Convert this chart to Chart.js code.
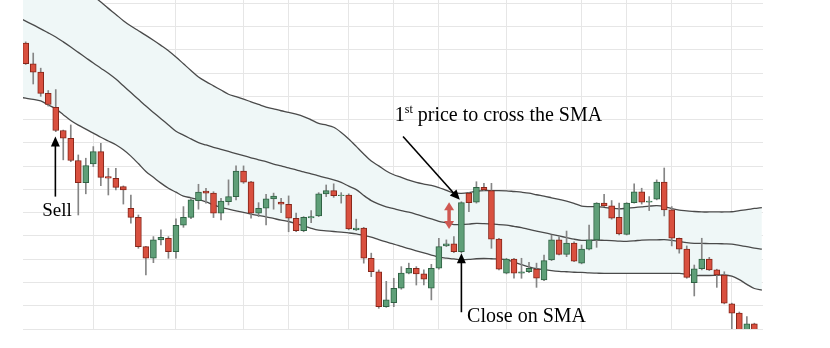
<!DOCTYPE html>
<html>
<head>
<meta charset="utf-8">
<script src="https://cdn.jsdelivr.net/npm/chart.js@4"></script>
<style>
  body { margin: 0; background: #fff; }
  canvas { display: block; }
</style>
</head>
<body>
<canvas id="chart" width="830" height="348"></canvas>
<script>
// Daily candles (session index 0..97)
const opens = [
  12.29, 11.40, 11.04, 10.13, 9.53, 8.53, 8.20, 7.24, 6.29, 7.10,
  7.62, 6.55, 6.48, 6.12, 5.19, 4.80, 3.54, 3.04, 3.83, 3.90,
  3.32, 4.46, 4.80, 5.52, 5.93, 5.84, 4.98, 5.47, 5.69, 6.79,
  6.33, 4.98, 5.19, 5.59, 5.45, 5.36, 4.76, 4.23, 4.77, 4.86,
  5.81, 5.95, 5.73, 5.76, 4.26, 4.34, 3.04, 2.46, 0.96, 1.13,
  1.75, 2.40, 2.61, 2.37, 1.75, 2.61, 3.57, 3.66, 3.32, 5.84,
  5.45, 6.09, 5.95, 3.86, 2.40, 3.00, 2.40, 2.46, 2.58, 2.11,
  2.97, 3.83, 3.21, 3.69, 2.83, 3.43, 3.83, 5.41, 5.29, 4.80,
  4.07, 5.43, 5.90, 5.45, 5.58, 6.31, 5.12, 3.90, 3.43, 1.99,
  2.59, 3.00, 2.54, 2.32, 1.08, 0.68, -0.22, 0.22
];
const highs = [
  12.34, 11.86, 11.21, 10.25, 10.29, 8.55, 8.77, 7.48, 7.34, 7.84,
  7.98, 6.91, 6.91, 6.15, 5.76, 4.90, 3.55, 3.97, 4.26, 3.97,
  4.73, 5.26, 5.63, 6.22, 6.05, 5.90, 5.62, 6.41, 7.01, 7.01,
  6.35, 5.43, 5.79, 5.84, 5.62, 5.72, 4.98, 4.83, 5.09, 5.86,
  6.19, 6.24, 5.86, 5.81, 4.72, 4.37, 3.26, 2.54, 2.05, 2.18,
  2.68, 2.83, 2.68, 2.54, 2.78, 3.90, 3.83, 3.97, 5.47, 5.86,
  6.33, 6.26, 6.26, 3.90, 3.04, 3.04, 3.04, 2.87, 2.83, 3.18,
  4.04, 3.97, 4.21, 3.75, 3.61, 4.47, 5.43, 5.79, 5.52, 5.41,
  5.43, 6.24, 6.05, 5.69, 6.41, 6.92, 5.26, 3.91, 3.57, 2.75,
  3.90, 3.08, 2.57, 2.46, 1.11, 0.73, 0.53, 0.25
];
const lows = [
  11.37, 10.53, 10.00, 9.58, 8.48, 7.27, 7.19, 4.90, 5.81, 6.98,
  6.16, 5.76, 5.98, 5.37, 4.55, 3.47, 2.32, 2.85, 3.61, 3.04,
  3.04, 4.37, 4.74, 5.15, 5.41, 4.79, 4.69, 5.33, 5.55, 6.26,
  4.76, 4.83, 4.47, 5.15, 5.00, 4.18, 4.18, 4.18, 4.57, 4.83,
  5.69, 5.66, 5.41, 4.26, 4.23, 2.83, 2.25, 0.89, 0.93, 0.96,
  1.71, 2.37, 1.89, 1.89, 1.25, 2.57, 3.54, 3.28, 3.28, 5.04,
  5.41, 5.95, 3.47, 2.54, 2.37, 2.18, 2.18, 2.42, 1.79, 2.08,
  2.94, 3.18, 3.11, 2.89, 2.80, 3.40, 3.51, 5.26, 4.72, 4.04,
  4.04, 5.41, 5.37, 5.09, 5.55, 4.86, 3.57, 3.26, 2.18, 1.42,
  2.54, 2.51, 1.79, 1.08, -0.04, -0.26, -0.30, -0.30
];
const closes = [
  11.40, 11.04, 10.13, 9.65, 8.53, 8.20, 7.24, 6.29, 7.02, 7.62,
  6.52, 6.48, 6.09, 5.98, 4.80, 3.54, 3.04, 3.83, 3.94, 3.32,
  4.46, 4.80, 5.55, 5.88, 5.84, 4.98, 5.50, 5.69, 6.79, 6.31,
  4.98, 5.19, 5.59, 5.71, 5.36, 4.76, 4.23, 4.80, 4.83, 5.81,
  5.95, 5.73, 5.76, 4.30, 4.34, 3.04, 2.46, 0.96, 1.25, 1.75,
  2.40, 2.61, 2.37, 2.14, 2.61, 3.54, 3.66, 3.32, 5.43, 5.43,
  6.09, 5.98, 3.86, 2.57, 3.00, 2.40, 2.46, 2.61, 2.18, 2.94,
  3.83, 3.21, 3.69, 2.92, 3.44, 3.83, 5.41, 5.29, 4.76, 4.09,
  5.41, 5.90, 5.45, 5.50, 6.31, 5.12, 3.90, 3.43, 2.22, 2.59,
  3.00, 2.54, 2.32, 1.11, 0.68, -0.17, 0.22, -0.22
];

// Bands run one session either side of the candles (index -1..98)
const bandStart = -1;
const upperBand = [
  17.06, 16.79, 16.51, 16.24, 15.96, 15.69, 15.41, 15.14, 14.86, 14.59,
  14.32, 14.05, 13.78, 13.52, 13.25, 13.02, 12.82, 12.62, 12.41, 12.19,
  11.96, 11.69, 11.40, 11.11, 10.83, 10.63, 10.45, 10.27, 10.09, 9.99,
  9.88, 9.76, 9.65, 9.54, 9.46, 9.38, 9.31, 9.23, 9.13, 8.99,
  8.84, 8.77, 8.67, 8.45, 8.17, 7.85, 7.52, 7.22, 7.01, 6.79,
  6.63, 6.52, 6.40, 6.30, 6.23, 6.17, 6.08, 5.96, 5.85, 5.83,
  5.86, 5.92, 5.95, 5.95, 5.95, 5.94, 5.91, 5.88, 5.84, 5.77,
  5.71, 5.64, 5.57, 5.50, 5.40, 5.28, 5.26, 5.26, 5.23, 5.19,
  5.16, 5.19, 5.22, 5.25, 5.28, 5.30, 5.26, 5.17, 5.11, 5.08,
  5.05, 5.03, 5.03, 5.03, 5.03, 5.04, 5.09, 5.13, 5.18, 5.22
];
const smaBand = [
  13.39, 13.23, 13.07, 12.90, 12.73, 12.55, 12.34, 12.12, 11.89, 11.66,
  11.43, 11.21, 10.99, 10.74, 10.45, 10.16, 9.87, 9.58, 9.31, 9.04,
  8.77, 8.50, 8.33, 8.17, 8.01, 7.91, 7.81, 7.72, 7.63, 7.54,
  7.45, 7.36, 7.27, 7.19, 7.09, 7.01, 6.92, 6.84, 6.75, 6.67,
  6.58, 6.49, 6.41, 6.30, 6.14, 5.99, 5.74, 5.52, 5.37, 5.25,
  5.17, 5.09, 5.02, 4.93, 4.83, 4.73, 4.63, 4.56, 4.49, 4.49,
  4.51, 4.54, 4.53, 4.51, 4.49, 4.46, 4.41, 4.36, 4.28, 4.21,
  4.14, 4.07, 4.00, 3.93, 3.86, 3.81, 3.81, 3.82, 3.81, 3.80,
  3.78, 3.77, 3.79, 3.82, 3.83, 3.83, 3.84, 3.81, 3.76, 3.71,
  3.68, 3.68, 3.67, 3.67, 3.66, 3.65, 3.59, 3.54, 3.48, 3.43
];
const lowerBand = [
  9.97, 9.92, 9.87, 9.80, 9.63, 9.46, 9.21, 8.96, 8.76, 8.59,
  8.42, 8.24, 8.08, 7.92, 7.70, 7.43, 7.11, 6.77, 6.52, 6.27,
  6.05, 5.88, 5.71, 5.64, 5.56, 5.46, 5.34, 5.23, 5.15, 5.08,
  5.01, 4.94, 4.88, 4.82, 4.75, 4.68, 4.62, 4.53, 4.43, 4.33,
  4.25, 4.22, 4.19, 4.16, 4.13, 4.09, 4.02, 3.95, 3.84, 3.74,
  3.65, 3.55, 3.45, 3.36, 3.27, 3.18, 3.09, 3.05, 3.01, 2.98,
  2.99, 3.02, 3.03, 3.02, 3.01, 2.98, 2.87, 2.77, 2.67, 2.59,
  2.55, 2.51, 2.48, 2.46, 2.44, 2.43, 2.41, 2.40, 2.39, 2.39,
  2.39, 2.39, 2.39, 2.39, 2.39, 2.39, 2.39, 2.39, 2.39, 2.35,
  2.30, 2.30, 2.30, 2.31, 2.32, 2.27, 2.12, 1.92, 1.74, 1.67
];

// sessions where a new week starts (vertical grid)
const weekStarts = [9, 20, 29, 35, 43, 49, 55, 64, 74, 80, 86, 94];

const UP_FILL = '#5f9f78', UP_EDGE = '#2f6243';
const DOWN_FILL = '#d9503f', DOWN_EDGE = '#86261a';
const GRID = '#e6e6e6';

const bodies = opens.map((o, i) => ({ x: i, y: [o, closes[i]] }));
const wicks = lows.map((l, i) => ({ x: i, y: [l, highs[i]] }));
const isUp = closes.map((c, i) => c >= opens[i]);
const bandPoints = arr => arr.map((v, k) => ({ x: bandStart + k, y: v }));

function drawHead(ctx, x1, y1, x2, y2, len, half) {
  const a = Math.atan2(y2 - y1, x2 - x1);
  const bx = x2 - len * Math.cos(a), by = y2 - len * Math.sin(a);
  ctx.beginPath();
  ctx.moveTo(x2, y2);
  ctx.lineTo(bx + half * Math.sin(a), by - half * Math.cos(a));
  ctx.lineTo(bx - half * Math.sin(a), by + half * Math.cos(a));
  ctx.closePath();
  ctx.fill();
}

function drawArrow(ctx, x1, y1, x2, y2, o) {
  const a = Math.atan2(y2 - y1, x2 - x1);
  ctx.strokeStyle = o.color;
  ctx.fillStyle = o.color;
  ctx.lineWidth = o.width;
  const sx = o.both ? x1 + o.len * 0.8 * Math.cos(a) : x1;
  const sy = o.both ? y1 + o.len * 0.8 * Math.sin(a) : y1;
  ctx.beginPath();
  ctx.moveTo(sx, sy);
  ctx.lineTo(x2 - o.len * 0.8 * Math.cos(a), y2 - o.len * 0.8 * Math.sin(a));
  ctx.stroke();
  drawHead(ctx, x1, y1, x2, y2, o.len, o.half);
  if (o.both) drawHead(ctx, x2, y2, x1, y1, o.len, o.half);
}

// callouts, placed in session / price units
const callouts = {
  sellArrow: { x: 3.95, from: 5.69, to: 8.27 },
  sellText: { x: 2.2, y: 4.87 },
  crossArrow: { x1: 50.23, y1: 8.27, x2: 57.79, y2: 5.55 },
  crossText: { x: 49.13, y: 8.96 },
  gap: { x: 56.36, from: 5.45, to: 4.30 },
  closeArrow: { x: 58, from: 0.72, to: 3.26 },
  closeText: { x: 58.76, y: 0.31 }
};

const calloutPlugin = {
  id: 'callouts',
  afterDraw(chart) {
    const { ctx } = chart;
    const X = v => chart.scales.x.getPixelForValue(v);
    const Y = v => chart.scales.y.getPixelForValue(v);
    const c = callouts;
    const black = { color: '#000', width: 1.6, len: 10, half: 4.5 };
    ctx.save();

    drawArrow(ctx, X(c.sellArrow.x), Y(c.sellArrow.from), X(c.sellArrow.x), Y(c.sellArrow.to), black);
    drawArrow(ctx, X(c.crossArrow.x1), Y(c.crossArrow.y1), X(c.crossArrow.x2), Y(c.crossArrow.y2), black);
    drawArrow(ctx, X(c.closeArrow.x), Y(c.closeArrow.from), X(c.closeArrow.x), Y(c.closeArrow.to), black);
    drawArrow(ctx, X(c.gap.x), Y(c.gap.from), X(c.gap.x), Y(c.gap.to),
      { color: '#cf5852', width: 3.5, len: 8, half: 5, both: true });

    ctx.fillStyle = '#000';
    ctx.textBaseline = 'alphabetic';
    ctx.font = '19px "Liberation Serif"';
    ctx.fillText('Sell', X(c.sellText.x), Y(c.sellText.y));

    ctx.font = '20px "Liberation Serif"';
    ctx.fillText('Close on SMA', X(c.closeText.x), Y(c.closeText.y));

    let tx = X(c.crossText.x);
    const ty = Y(c.crossText.y);
    ctx.fillText('1', tx, ty);
    tx += ctx.measureText('1').width;
    ctx.font = '12px "Liberation Serif"';
    ctx.fillText('st', tx, ty - 8);
    tx += ctx.measureText('st').width;
    ctx.font = '20px "Liberation Serif"';
    ctx.fillText(' price to cross the SMA', tx, ty);

    ctx.restore();
  }
};

new Chart(document.getElementById('chart'), {
  type: 'bar',
  data: {
    datasets: [
      {
        label: 'Body',
        data: bodies,
        backgroundColor: isUp.map(u => (u ? UP_FILL : DOWN_FILL)),
        borderColor: isUp.map(u => (u ? UP_EDGE : DOWN_EDGE)),
        borderWidth: 1,
        borderSkipped: false,
        barThickness: 6,
        grouped: false,
        order: 1
      },
      {
        label: 'Wick',
        data: wicks,
        backgroundColor: '#858585',
        barThickness: 1,
        grouped: false,
        order: 2
      },
      {
        type: 'line',
        label: 'Upper',
        data: bandPoints(upperBand),
        borderColor: '#4a4a4a',
        borderWidth: 1.3,
        backgroundColor: '#eff7f7',
        fill: '+2',
        pointRadius: 0,
        tension: 0.3,
        order: 5
      },
      {
        type: 'line',
        label: 'SMA',
        data: bandPoints(smaBand),
        borderColor: '#4a4a4a',
        borderWidth: 1.3,
        fill: false,
        pointRadius: 0,
        tension: 0.3,
        order: 4
      },
      {
        type: 'line',
        label: 'Lower',
        data: bandPoints(lowerBand),
        borderColor: '#4a4a4a',
        borderWidth: 1.3,
        fill: false,
        pointRadius: 0,
        tension: 0.3,
        order: 4
      }
    ]
  },
  options: {
    responsive: false,
    animation: false,
    layout: { padding: { left: 23, right: 67, top: 0, bottom: 19 } },
    plugins: {
      legend: { display: false },
      tooltip: { enabled: false }
    },
    scales: {
      x: {
        type: 'linear',
        min: -0.36,
        max: 98.15,
        offset: false,
        grid: { offset: false, color: GRID, drawTicks: false },
        border: { display: false },
        ticks: { display: false },
        afterBuildTicks: scale => {
          scale.ticks = weekStarts.map(v => ({ value: v }));
        }
      },
      y: {
        min: 0,
        max: 14.14,
        grid: { color: GRID, drawTicks: false },
        border: { display: false },
        ticks: { display: false, stepSize: 1, includeBounds: false }
      }
    }
  },
  plugins: [calloutPlugin]
});
</script>
</body>
</html>
